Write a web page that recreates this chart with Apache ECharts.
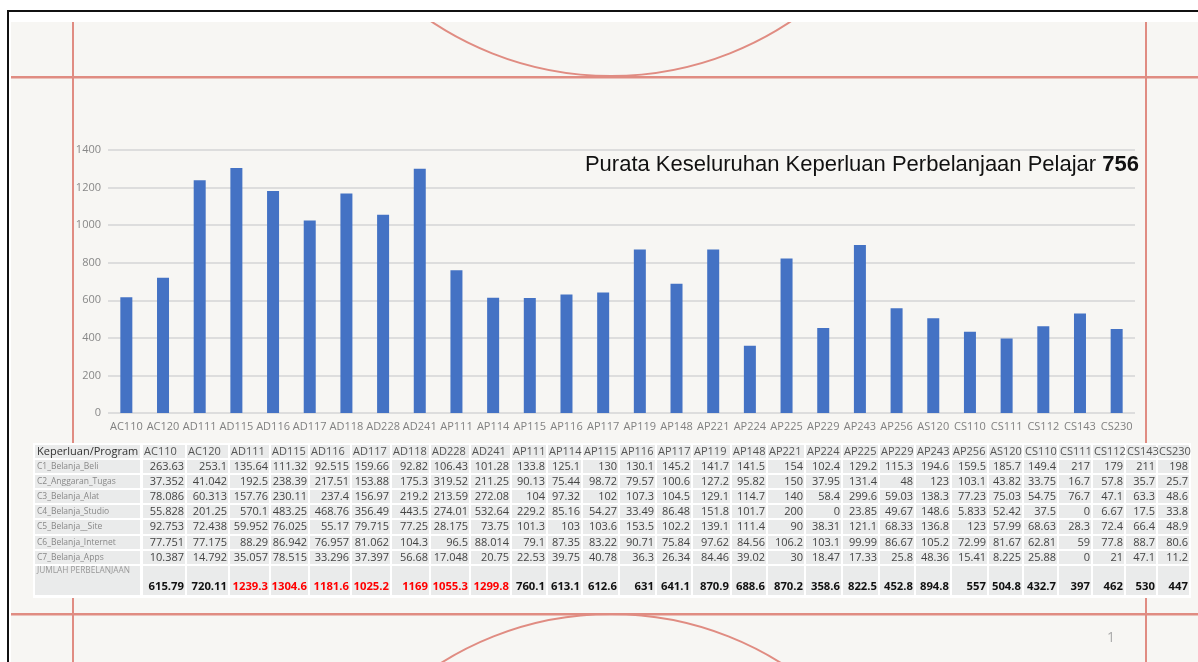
<!DOCTYPE html>
<html>
<head>
<meta charset="utf-8">
<title>Keperluan Perbelanjaan Pelajar</title>
<script src="https://cdn.jsdelivr.net/npm/echarts@6/dist/echarts.min.js"></script>
<style>
  html, body { margin: 0; padding: 0; background: #fff; }
  #chart { width: 1198px; height: 662px; }
</style>
</head>
<body>
<div id="chart"></div>
<script>
// program codes (x axis + table columns)
const programs = ['AC110', 'AC120', 'AD111', 'AD115', 'AD116', 'AD117', 'AD118', 'AD228', 'AD241',
  'AP111', 'AP114', 'AP115', 'AP116', 'AP117', 'AP119', 'AP148', 'AP221', 'AP224', 'AP225', 'AP229',
  'AP243', 'AP256', 'AS120', 'CS110', 'CS111', 'CS112', 'CS143', 'CS230'];

const rowLabels = ['C1_Belanja_Beli', 'C2_Anggaran_Tugas', 'C3_Belanja_Alat', 'C4_Belanja_Studio',
  'C5_Belanja__Site', 'C6_Belanja_Internet', 'C7_Belanja_Apps'];

const c1Beli = [263.63, 253.1, 135.64, 111.32, 92.515, 159.66, 92.82, 106.43, 101.28, 133.8, 125.1, 130,
  130.1, 145.2, 141.7, 141.5, 154, 102.4, 129.2, 115.3, 194.6, 159.5, 185.7, 149.4, 217, 179, 211, 198];
const c2Tugas = [37.352, 41.042, 192.5, 238.39, 217.51, 153.88, 175.3, 319.52, 211.25, 90.13, 75.44, 98.72,
  79.57, 100.6, 127.2, 95.82, 150, 37.95, 131.4, 48, 123, 103.1, 43.82, 33.75, 16.7, 57.8, 35.7, 25.7];
const c3Alat = [78.086, 60.313, 157.76, 230.11, 237.4, 156.97, 219.2, 213.59, 272.08, 104, 97.32, 102,
  107.3, 104.5, 129.1, 114.7, 140, 58.4, 299.6, 59.03, 138.3, 77.23, 75.03, 54.75, 76.7, 47.1, 63.3, 48.6];
const c4Studio = [55.828, 201.25, 570.1, 483.25, 468.76, 356.49, 443.5, 274.01, 532.64, 229.2, 85.16, 54.27,
  33.49, 86.48, 151.8, 101.7, 200, 0, 23.85, 49.67, 148.6, 5.833, 52.42, 37.5, 0, 6.67, 17.5, 33.8];
const c5Site = [92.753, 72.438, 59.952, 76.025, 55.17, 79.715, 77.25, 28.175, 73.75, 101.3, 103, 103.6,
  153.5, 102.2, 139.1, 111.4, 90, 38.31, 121.1, 68.33, 136.8, 123, 57.99, 68.63, 28.3, 72.4, 66.4, 48.9];
const c6Internet = [77.751, 77.175, 88.29, 86.942, 76.957, 81.062, 104.3, 96.5, 88.014, 79.1, 87.35, 83.22,
  90.71, 75.84, 97.62, 84.56, 106.2, 103.1, 99.99, 86.67, 105.2, 72.99, 81.67, 62.81, 59, 77.8, 88.7, 80.6];
const c7Apps = [10.387, 14.792, 35.057, 78.515, 33.296, 37.397, 56.68, 17.048, 20.75, 22.53, 39.75, 40.78,
  36.3, 26.34, 84.46, 39.02, 30, 18.47, 17.33, 25.8, 48.36, 15.41, 8.225, 25.88, 0, 21, 47.1, 11.2];

// JUMLAH PERBELANJAAN (also bar heights)
const totals = [615.79, 720.11, 1239.3, 1304.6, 1181.6, 1025.2, 1169, 1055.3, 1299.8, 760.1, 613.1, 612.6,
  631, 641.1, 870.9, 688.6, 870.2, 358.6, 822.5, 452.8, 894.8, 557, 504.8, 432.7, 397, 462, 530, 447];

const yTicks = [0, 200, 400, 600, 800, 1000, 1200, 1400];

const tableRows = [c1Beli, c2Tugas, c3Alat, c4Studio, c5Site, c6Internet, c7Apps];
const average = Math.round(totals.reduce((a, b) => a + b, 0) / totals.length);

// ---- layout (pixels) ----
const LINE = '#e08c82';
const CELL = '#eaebeb';
const FONT = '"Open Sans", "Noto Sans", sans-serif';
const colLeft = [143, 187, 230, 271, 310, 352, 392, 431, 471, 512, 548, 583, 620, 657, 693, 732, 768,
  806, 843, 880, 916, 952, 989, 1024, 1059, 1093, 1126, 1158];
const tableRight = 1189;
const rowTop = [445, 460, 475, 490, 505, 520, 536, 551, 566];
const tableBottom = 595;

const el = [];

// page background / decoration
el.push({ type: 'rect', z: -20, shape: { x: 11, y: 22, width: 1187, height: 640 }, style: { fill: '#f7f6f3' } });
el.push({ type: 'circle', z: -19, shape: { cx: 611, cy: -247, r: 323 }, style: { fill: null, stroke: LINE, lineWidth: 2 } });
el.push({ type: 'circle', z: -19, shape: { cx: 611, cy: 933, r: 319 }, style: { fill: null, stroke: LINE, lineWidth: 2 } });
el.push({ type: 'rect', z: -18, shape: { x: 72, y: 22, width: 2, height: 640 }, style: { fill: LINE } });
el.push({ type: 'rect', z: -18, shape: { x: 1145, y: 22, width: 2, height: 640 }, style: { fill: LINE } });
el.push({ type: 'rect', z: -18, shape: { x: 11, y: 76, width: 1187, height: 2.5 }, style: { fill: LINE } });
el.push({ type: 'rect', z: -18, shape: { x: 11, y: 613, width: 1187, height: 2.5 }, style: { fill: LINE } });
el.push({ type: 'rect', z: -17, shape: { x: 0, y: 0, width: 1198, height: 22 }, style: { fill: '#fff' } });
el.push({ type: 'rect', z: -16, shape: { x: 7, y: 10, width: 1191, height: 2 }, style: { fill: '#111' } });
el.push({ type: 'rect', z: -16, shape: { x: 7, y: 10, width: 2, height: 652 }, style: { fill: '#111' } });
el.push({ type: 'text', z: -16, style: { text: '1', x: 1111, y: 638, fill: '#aaa', font: '14px ' + FONT,
  align: 'center', verticalAlign: 'middle', textAlign: 'center', textVerticalAlign: 'middle' } });

// table
function cell(x, y, w, h) {
  el.push({ type: 'rect', z: 51, shape: { x: x, y: y, width: w, height: h }, style: { fill: CELL } });
}
function txt(s, x, y, font, color, align) {
  el.push({ type: 'text', z: 52, style: { text: s, x: x, y: y, font: font, fill: color,
    align: align, verticalAlign: 'middle', textAlign: align, textVerticalAlign: 'middle' } });
}
el.push({ type: 'rect', z: 50, shape: { x: 33, y: 443, width: 1158, height: 155 }, style: { fill: '#fff' } });

const rowBottom = rowTop.slice(1).map(v => v - 2).concat([tableBottom]);
// first column
for (let r = 0; r < rowTop.length; r++) {
  cell(35, rowTop[r], 105, rowBottom[r] - rowTop[r]);
}
txt('Keperluan/Program', 37, 452, '11px ' + FONT, '#333', 'left');
rowLabels.forEach((lab, r) => {
  txt(lab, 37, (rowTop[r + 1] + rowBottom[r + 1]) / 2, '8.5px ' + FONT, '#888', 'left');
});
txt('JUMLAH PERBELANJAAN', 37, 571, '8.3px ' + FONT, '#999', 'left');

programs.forEach((p, c) => {
  const x0 = colLeft[c];
  const x1 = (c + 1 < colLeft.length ? colLeft[c + 1] - 2 : tableRight);
  for (let r = 0; r < rowTop.length; r++) cell(x0, rowTop[r], x1 - x0, rowBottom[r] - rowTop[r]);
  txt(p, x0 + 1, 452, '11px ' + FONT, '#555', 'left');
  tableRows.forEach((row, r) => {
    txt(String(row[c]), x1 - 1, (rowTop[r + 1] + rowBottom[r + 1]) / 2, '11px ' + FONT, '#444', 'right');
  });
  txt(String(totals[c]), x1 - 1, 587, 'bold 11.3px ' + FONT, totals[c] > 1000 ? '#ff0000' : '#111', 'right');
});

const chart = echarts.init(document.getElementById('chart'));

chart.setOption({
  backgroundColor: 'transparent',
  animation: false,
  title: {
    text: '{a|Purata Keseluruhan Keperluan Perbelanjaan Pelajar }{b|' + average + '}',
    right: 54,
    top: 149,
    textStyle: {
      rich: {
        a: { fontFamily: '"Liberation Sans", Arial, sans-serif', fontSize: 22, fontWeight: 'normal', color: '#111' },
        b: { fontFamily: '"Liberation Sans", Arial, sans-serif', fontSize: 22, fontWeight: 'bold', color: '#111' }
      }
    }
  },
  grid: { left: 108, right: 63, top: 150, bottom: 249 },
  xAxis: {
    type: 'category',
    data: programs,
    axisTick: { show: false },
    axisLine: { show: false },
    axisLabel: { interval: 0, color: '#808080', fontSize: 11, fontFamily: FONT, margin: 8 }
  },
  yAxis: {
    type: 'value',
    min: yTicks[0],
    max: yTicks[yTicks.length - 1],
    interval: yTicks[1] - yTicks[0],
    axisLabel: { color: '#888', fontSize: 11, fontFamily: FONT, margin: 7, formatter: v => String(v) },
    splitLine: { lineStyle: { color: '#dddddd', width: 2 } }
  },
  series: [{
    type: 'bar',
    data: totals,
    barWidth: 12,
    itemStyle: { color: '#4472c4' }
  }],
  graphic: { elements: el }
});
</script>
</body>
</html>
